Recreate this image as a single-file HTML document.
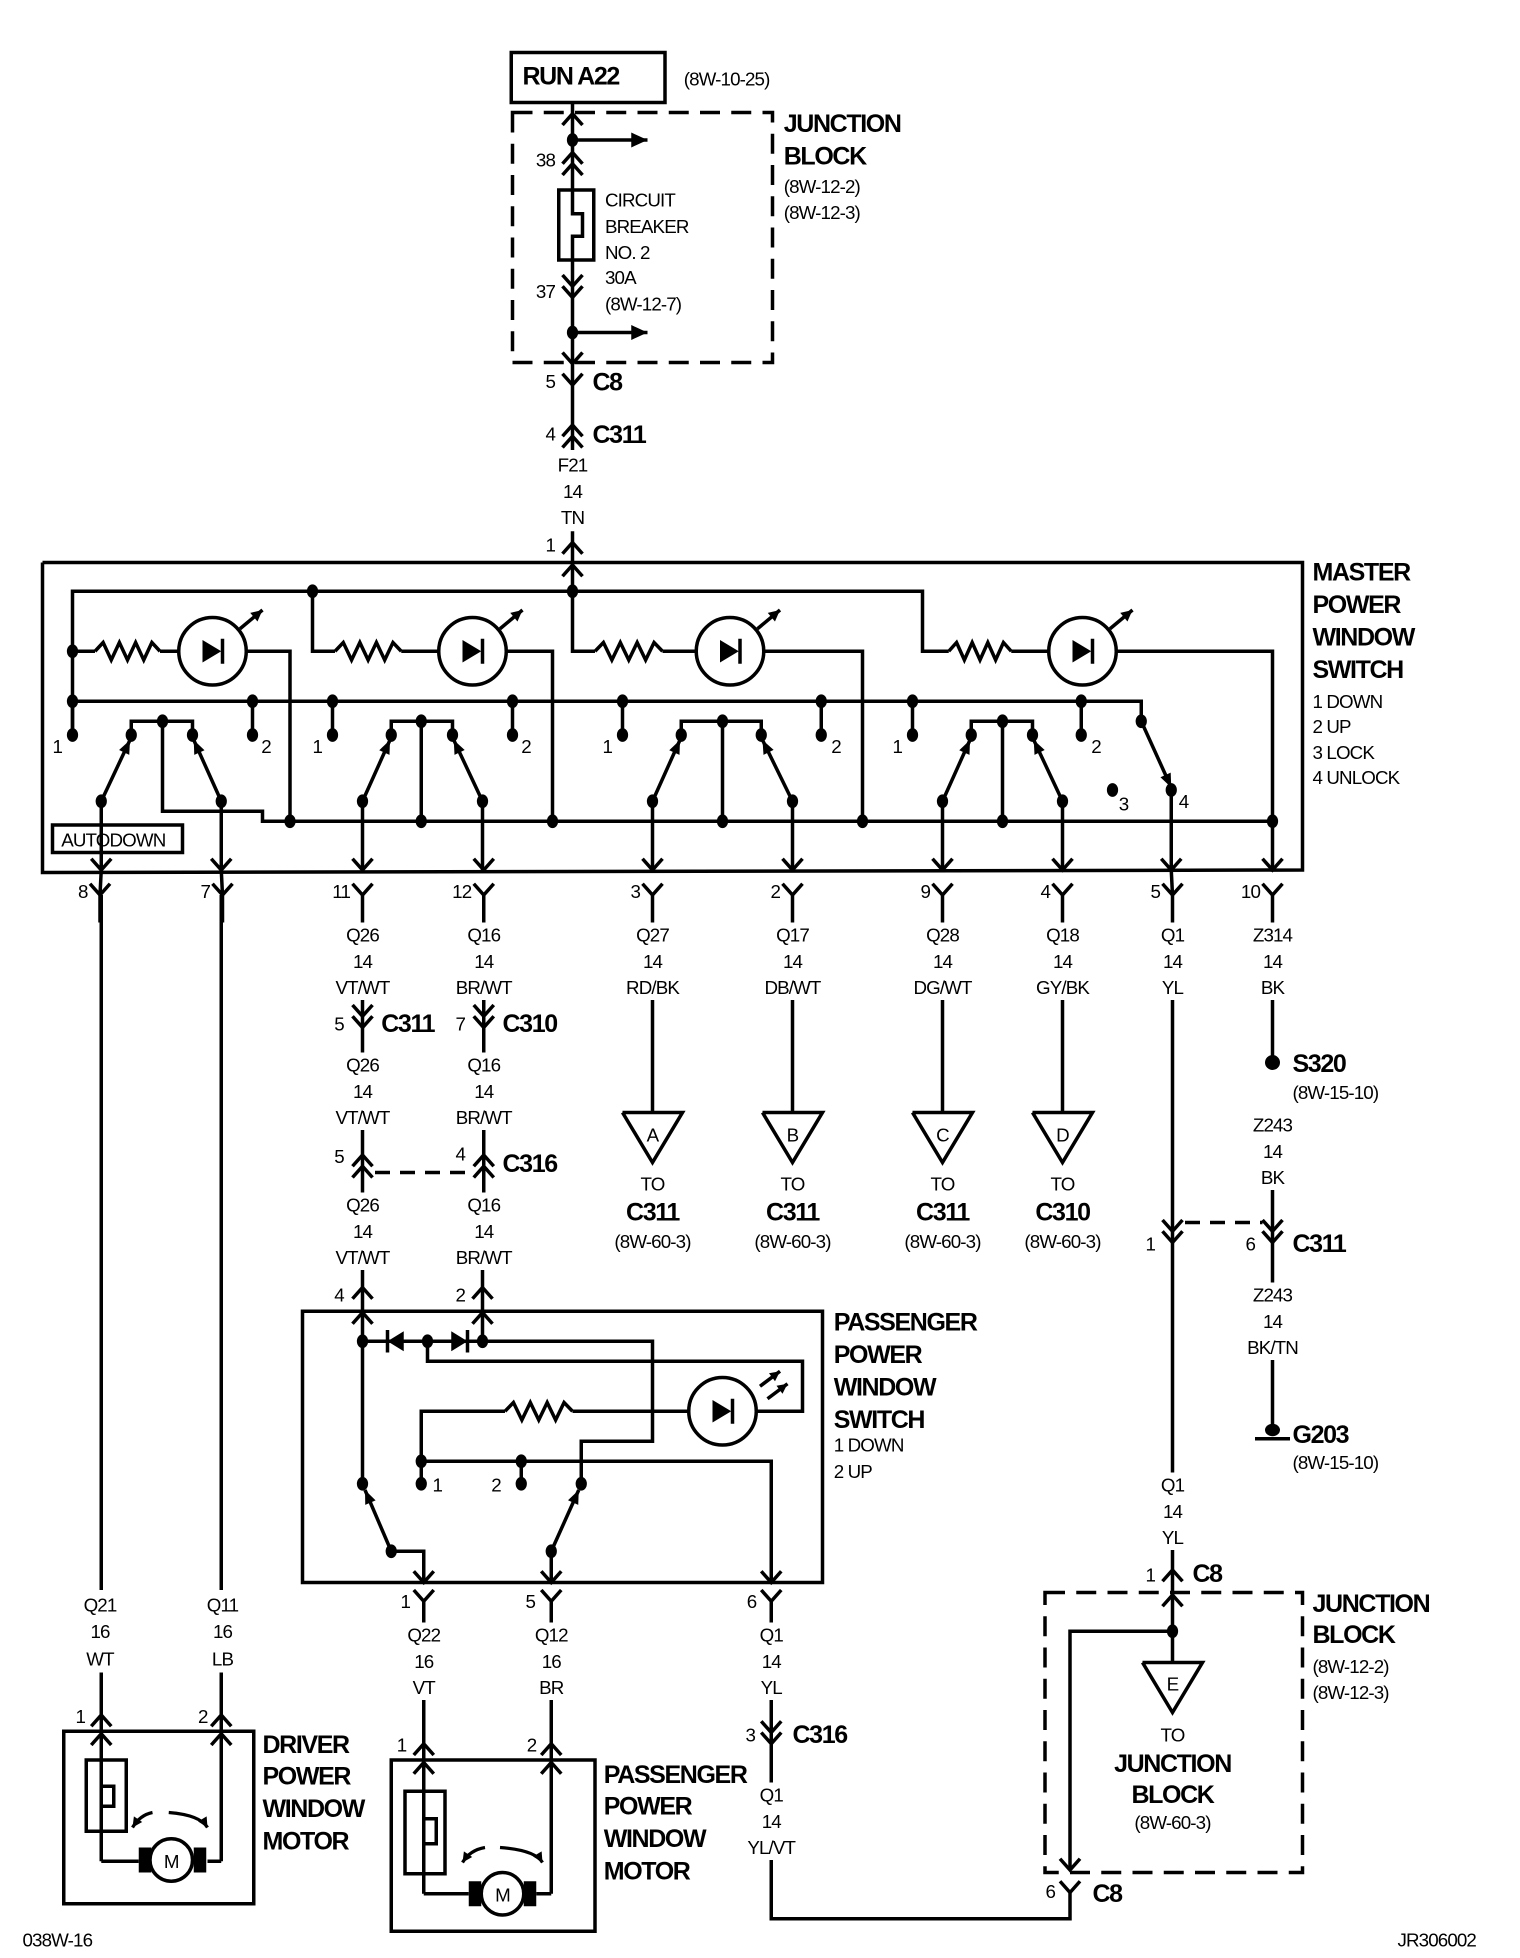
<!DOCTYPE html>
<html><head><meta charset="utf-8"><style>
html,body{margin:0;padding:0;background:#fff}
svg{display:block}
#g polyline,#g line,#g circle,#g rect{fill:none;stroke:#000;stroke-width:2.8}
#g .f{fill:#000;stroke:none}
text{font-family:"Liberation Sans",Arial,sans-serif;fill:#000}
.b{font-weight:bold;font-size:20px;letter-spacing:-1.1px}
.s{font-size:15px;letter-spacing:-0.7px}
.m{text-anchor:middle}
.e{text-anchor:end}
</style></head><body>
<svg width="1520" height="1958" viewBox="0 0 1216 1566.4" xmlns="http://www.w3.org/2000/svg">
<rect x="0" y="0" width="1216" height="1567" fill="#fff"/>
<g id="g"></g>
<g id="t" dominant-baseline="central">
<text class="b" x="418" y="61">RUN A22</text>
<text class="s" x="547" y="63">(8W-10-25)</text>
<text class="b" x="627" y="99">JUNCTION</text>
<text class="b" x="627" y="125">BLOCK</text>
<text class="s" x="627" y="149">(8W-12-2)</text>
<text class="s" x="627" y="170">(8W-12-3)</text>
<text class="s" x="484" y="160">CIRCUIT</text>
<text class="s" x="484" y="181">BREAKER</text>
<text class="s" x="484" y="202">NO. 2</text>
<text class="s" x="484" y="222">30A</text>
<text class="s" x="484" y="243">(8W-12-7)</text>
<text class="s e" x="444" y="128">38</text>
<text class="s e" x="444" y="233">37</text>
<text class="s e" x="444" y="305">5</text>
<text class="b" x="474" y="306">C8</text>
<text class="s e" x="444" y="347">4</text>
<text class="b" x="474" y="348">C311</text>
<text class="s m" x="458" y="372">F21</text>
<text class="s m" x="458" y="393">14</text>
<text class="s m" x="458" y="414">TN</text>
<text class="s e" x="444" y="436">1</text>

<text class="b" x="1050" y="458">MASTER</text>
<text class="b" x="1050" y="484">POWER</text>
<text class="b" x="1050" y="510">WINDOW</text>
<text class="b" x="1050" y="536">SWITCH</text>
<text class="s" x="1050" y="561">1 DOWN</text>
<text class="s" x="1050" y="581">2 UP</text>
<text class="s" x="1050" y="602">3 LOCK</text>
<text class="s" x="1050" y="622">4 UNLOCK</text>

<text class="s" x="42" y="597">1</text>
<text class="s" x="209" y="597">2</text>
<text class="s" x="250" y="597">1</text>
<text class="s" x="417" y="597">2</text>
<text class="s" x="482" y="597">1</text>
<text class="s" x="665" y="597">2</text>
<text class="s" x="714" y="597">1</text>
<text class="s" x="873" y="597">2</text>
<text class="s" x="895" y="643">3</text>
<text class="s" x="943" y="641">4</text>
<text class="s" x="49" y="672">AUTODOWN</text>

<text class="s e" x="70" y="713">8</text>
<text class="s e" x="168" y="713">7</text>
<text class="s e" x="280" y="713">11</text>
<text class="s e" x="377" y="713">12</text>
<text class="s e" x="512" y="713">3</text>
<text class="s e" x="624" y="713">2</text>
<text class="s e" x="744" y="713">9</text>
<text class="s e" x="840" y="713">4</text>
<text class="s e" x="928" y="713">5</text>
<text class="s e" x="1008" y="713">10</text>

<text class="s m" x="290" y="748">Q26</text><text class="s m" x="290" y="769">14</text><text class="s m" x="290" y="790">VT/WT</text>
<text class="s m" x="387" y="748">Q16</text><text class="s m" x="387" y="769">14</text><text class="s m" x="387" y="790">BR/WT</text>
<text class="s m" x="522" y="748">Q27</text><text class="s m" x="522" y="769">14</text><text class="s m" x="522" y="790">RD/BK</text>
<text class="s m" x="634" y="748">Q17</text><text class="s m" x="634" y="769">14</text><text class="s m" x="634" y="790">DB/WT</text>
<text class="s m" x="754" y="748">Q28</text><text class="s m" x="754" y="769">14</text><text class="s m" x="754" y="790">DG/WT</text>
<text class="s m" x="850" y="748">Q18</text><text class="s m" x="850" y="769">14</text><text class="s m" x="850" y="790">GY/BK</text>
<text class="s m" x="938" y="748">Q1</text><text class="s m" x="938" y="769">14</text><text class="s m" x="938" y="790">YL</text>
<text class="s m" x="1018" y="748">Z314</text><text class="s m" x="1018" y="769">14</text><text class="s m" x="1018" y="790">BK</text>

<text class="s e" x="275" y="819">5</text><text class="b" x="305" y="819">C311</text>
<text class="s e" x="372" y="819">7</text><text class="b" x="402" y="819">C310</text>
<text class="s m" x="290" y="852">Q26</text><text class="s m" x="290" y="873">14</text><text class="s m" x="290" y="894">VT/WT</text>
<text class="s m" x="387" y="852">Q16</text><text class="s m" x="387" y="873">14</text><text class="s m" x="387" y="894">BR/WT</text>
<text class="s e" x="275" y="925">5</text>
<text class="s e" x="372" y="923">4</text><text class="b" x="402" y="931">C316</text>
<text class="s m" x="290" y="964">Q26</text><text class="s m" x="290" y="985">14</text><text class="s m" x="290" y="1006">VT/WT</text>
<text class="s m" x="387" y="964">Q16</text><text class="s m" x="387" y="985">14</text><text class="s m" x="387" y="1006">BR/WT</text>
<text class="s e" x="275" y="1036">4</text>
<text class="s e" x="372" y="1036">2</text>

<text class="s m" x="522" y="908">A</text>
<text class="s m" x="634" y="908">B</text>
<text class="s m" x="754" y="908">C</text>
<text class="s m" x="850" y="908">D</text>
<text class="s m" x="522" y="947">TO</text><text class="b m" x="522" y="970">C311</text><text class="s m" x="522" y="993">(8W-60-3)</text>
<text class="s m" x="634" y="947">TO</text><text class="b m" x="634" y="970">C311</text><text class="s m" x="634" y="993">(8W-60-3)</text>
<text class="s m" x="754" y="947">TO</text><text class="b m" x="754" y="970">C311</text><text class="s m" x="754" y="993">(8W-60-3)</text>
<text class="s m" x="850" y="947">TO</text><text class="b m" x="850" y="970">C310</text><text class="s m" x="850" y="993">(8W-60-3)</text>

<text class="b" x="1034" y="851">S320</text>
<text class="s" x="1034" y="874">(8W-15-10)</text>
<text class="s m" x="1018" y="900">Z243</text><text class="s m" x="1018" y="921">14</text><text class="s m" x="1018" y="942">BK</text>
<text class="s e" x="924" y="995">1</text>
<text class="s e" x="1004" y="995">6</text><text class="b" x="1034" y="995">C311</text>
<text class="s m" x="1018" y="1036">Z243</text><text class="s m" x="1018" y="1057">14</text><text class="s m" x="1018" y="1078">BK/TN</text>
<text class="b" x="1034" y="1148">G203</text>
<text class="s" x="1034" y="1170">(8W-15-10)</text>
<text class="s m" x="938" y="1188">Q1</text><text class="s m" x="938" y="1209">14</text><text class="s m" x="938" y="1230">YL</text>
<text class="s e" x="924" y="1260">1</text><text class="b" x="954" y="1259">C8</text>

<text class="b" x="1050" y="1283">JUNCTION</text>
<text class="b" x="1050" y="1308">BLOCK</text>
<text class="s" x="1050" y="1333">(8W-12-2)</text>
<text class="s" x="1050" y="1354">(8W-12-3)</text>
<text class="s m" x="938" y="1347">E</text>
<text class="s m" x="938" y="1388">TO</text>
<text class="b m" x="938" y="1411">JUNCTION</text>
<text class="b m" x="938" y="1436">BLOCK</text>
<text class="s m" x="938" y="1458">(8W-60-3)</text>
<text class="s e" x="844" y="1513">6</text><text class="b" x="874" y="1515">C8</text>

<text class="b" x="667" y="1058">PASSENGER</text>
<text class="b" x="667" y="1084">POWER</text>
<text class="b" x="667" y="1110">WINDOW</text>
<text class="b" x="667" y="1136">SWITCH</text>
<text class="s" x="667" y="1156">1 DOWN</text>
<text class="s" x="667" y="1177">2 UP</text>
<text class="s" x="346" y="1188">1</text>
<text class="s" x="393" y="1188">2</text>
<text class="s e" x="328" y="1281">1</text>
<text class="s e" x="428" y="1281">5</text>
<text class="s e" x="605" y="1281">6</text>

<text class="s m" x="80" y="1284">Q21</text><text class="s m" x="80" y="1305">16</text><text class="s m" x="80" y="1327">WT</text>
<text class="s m" x="178" y="1284">Q11</text><text class="s m" x="178" y="1305">16</text><text class="s m" x="178" y="1327">LB</text>
<text class="s m" x="339" y="1308">Q22</text><text class="s m" x="339" y="1329">16</text><text class="s m" x="339" y="1350">VT</text>
<text class="s m" x="441" y="1308">Q12</text><text class="s m" x="441" y="1329">16</text><text class="s m" x="441" y="1350">BR</text>
<text class="s m" x="617" y="1308">Q1</text><text class="s m" x="617" y="1329">14</text><text class="s m" x="617" y="1350">YL</text>
<text class="s e" x="604" y="1388">3</text><text class="b" x="634" y="1388">C316</text>
<text class="s m" x="617" y="1436">Q1</text><text class="s m" x="617" y="1457">14</text><text class="s m" x="617" y="1478">YL/VT</text>

<text class="s e" x="68" y="1373">1</text>
<text class="s e" x="166" y="1373">2</text>
<text class="s e" x="325" y="1396">1</text>
<text class="s e" x="429" y="1396">2</text>
<text class="b" x="210" y="1396">DRIVER</text>
<text class="b" x="210" y="1421">POWER</text>
<text class="b" x="210" y="1447">WINDOW</text>
<text class="b" x="210" y="1473">MOTOR</text>
<text class="b" x="483" y="1420">PASSENGER</text>
<text class="b" x="483" y="1445">POWER</text>
<text class="b" x="483" y="1471">WINDOW</text>
<text class="b" x="483" y="1497">MOTOR</text>
<text class="s m" x="137" y="1489">M</text>
<text class="s m" x="402" y="1516">M</text>
<text class="s" x="18" y="1552">038W-16</text>
<text class="s" x="1118" y="1552">JR306002</text>
</g>
</svg>
<script>
const NS='http://www.w3.org/2000/svg';const G=document.getElementById('g');
function el(t,a){const e=document.createElementNS(NS,t);for(const k in a)e.setAttribute(k,a[k]);G.appendChild(e);return e;}
function P(a,extra){const pts=[];for(let i=0;i<a.length;i+=2)pts.push(a[i]+','+a[i+1]);return el('polyline',Object.assign({points:pts.join(' ')},extra||{}));}
function D(x,y){el('ellipse',{cx:x,cy:y,rx:4.5,ry:5.5,class:'f'});}
function vd(x,y){P([x-8,y-9,x,y,x+8,y-9]);}
function vu(x,y){P([x-8,y+9,x,y,x+8,y+9]);}
function head(x1,y1,x2,y2,L,W){L=L||11;W=W||4.5;const dx=x2-x1,dy=y2-y1,d=Math.hypot(dx,dy),ux=dx/d,uy=dy/d;
 const bx=x2-ux*L,by=y2-uy*L;el('polygon',{points:`${x2},${y2} ${bx-uy*W},${by+ux*W} ${bx+uy*W},${by-ux*W}`,class:'f'});}
function AR(x1,y1,x2,y2,L,W){P([x1,y1,x2,y2]);head(x1,y1,x2,y2,L,W);}
function res(x1,x2,y){const a=[x1,y];const n=8,w=(x2-x1)/n;for(let i=1;i<n;i++)a.push(x1+i*w,y+(i%2?-7:7));a.push(x2,y);P(a);}
function led(cx,cy,r,two){el('circle',{cx:cx,cy:cy,r:r});
 el('polygon',{points:`${cx-8},${cy-9} ${cx-8},${cy+9} ${cx+7},${cy}`,class:'f'});P([cx+8,cy-10,cx+8,cy+10]);
 if(two){AR(cx+30,cy-20,cx+46,cy-32,8,4);AR(cx+36,cy-10,cx+52,cy-22,8,4);}else AR(cx+22,cy-18,cx+40,cy-33,9,4.5);}
function diode(x,y,dir){
 el('polygon',{points:`${x},${y} ${x-dir*13},${y-8} ${x-dir*13},${y+8}`,class:'f'});P([x,y-9,x,y+9]);}
function tri(x,y){P([x-24,y,x+24,y,x,y+40,x-24,y]);}

el('rect',{x:409,y:42,width:123,height:40,'stroke-width':3.4});
el('rect',{x:410,y:90,width:208,height:200,'stroke-width':3.4,'stroke-dasharray':'16 9'});
P([458,82,458,152]);P([458,208,458,360]);
P([458,152,458,171,466,171,466,189,458,189,458,208]);
el('rect',{x:447,y:152,width:28,height:56});
vu(458,91);vu(458,122);vu(458,131);vd(458,229);vd(458,238);
D(458,112);AR(458,112,518,112,13,6);D(458,266);AR(458,266,518,266,13,6);
vd(458,291);vd(458,308);vu(458,340);vu(458,349);
P([458,425,458,472]);vu(458,434);vu(458,452);

P([34,450,1042,450,1042,696,34,698,34,450],{'stroke-width':4.2});
P([58,588,58,473,738,473,738,521,759,521]);
P([250,473,250,521,268,521]);P([458,473,458,521,476,521]);
D(250,473);D(458,473);
D(58,521);P([58,521,76,521]);res(76,128,521);P([128,521,143,521]);led(170,521,27);P([197,521,232,521,232,657]);
res(268,321,521);P([321,521,351,521]);led(378,521,27);P([404,521,442,521,442,657]);
res(476,530,521);P([530,521,557,521]);led(584,521,27);P([611,521,690,521,690,657]);
res(759,809,521);P([809,521,839,521]);led(866,521,27);P([893,521,1018,521,1018,696]);
P([58,561,913,561,913,577]);
[58,202,266,410,498,657,730,865].forEach(x=>{D(x,561);P([x,561,x,587]);D(x,588);});
P([130,577,130,649,210,649,210,657,1018,657]);
[232,337,442,578,690,802,1018].forEach(x=>D(x,657));
[[81,105,130,154,177],[290,313,337,362,386],[522,545,578,609,634],[754,777,802,826,850]].forEach(g=>{
 const [l,a,c,b,r]=g;P([a,588,a,577,b,577,b,588]);D(c,577);D(a,588);D(b,588);
 if(c!==130)P([c,577,c,657]);
 D(l,641);D(r,641);AR(l,641,a-1,592,11,4.5);AR(r,641,b+1,592,11,4.5);
 P([l,641,l,696]);P([r,641,r,696]);
});
D(913,577);AR(913,577,937,630,11,4.5);D(937,632);D(890,632);P([937,632,937,696]);
el('rect',{x:42,y:660,width:104,height:22});
[80,178,290,387,522,634,754,850,938,1018].forEach(x=>{const xx=(x===80?81:x===178?177:x===938?937:x);vd(xx,696);vd(x,716);P([x,716,x,738]);});
P([937,696,938,716]);P([81,696,80,716]);P([177,696,178,716]);
P([290,800,290,842]);vd(290,813);vd(290,822);
P([387,800,387,842]);vd(387,813);vd(387,822);
P([290,904,290,954]);vu(290,924);vu(290,933);
P([387,904,387,954]);vu(387,924);vu(387,933);
P([300,938,372,938],{'stroke-dasharray':'12 8'});
P([290,1016,290,1073]);vu(290,1030);vu(290,1050);
P([386,1016,386,1073]);vu(386,1030);vu(386,1050);
[522,634,754,850].forEach(x=>{P([x,800,x,890]);tri(x,890);});
P([938,800,938,1178]);vd(938,985);vd(938,994);
P([948,978,1010,978],{'stroke-dasharray':'12 8'});
P([1018,800,1018,850]);el('circle',{cx:1018,cy:850,r:6,class:'f'});
P([1018,952,1018,1026]);vd(1018,985);vd(1018,994);
P([1018,1088,1018,1142]);el('ellipse',{cx:1018,cy:1144,rx:6,ry:5,class:'f'});P([1004,1151,1032,1151],{'stroke-width':3});
P([938,1240,938,1330]);vu(938,1256);vu(938,1276);D(938,1305);tri(938,1330);
el('rect',{x:836,y:1274,width:206,height:224,'stroke-width':3.4,'stroke-dasharray':'16 9'});
P([938,1305,856,1305,856,1496]);vd(856,1496);vd(856,1514);P([856,1514,856,1535,617,1535,617,1488]);
el('rect',{x:242,y:1049,width:416,height:217,'stroke-width':3.4});
D(290,1073);D(342,1073);D(386,1073);
P([290,1073,342,1073]);diode(310,1073,-1);P([342,1073,386,1073]);diode(374,1073,1);
P([386,1073,522,1073,522,1153,465,1153,465,1187]);
P([342,1073,342,1089,642,1089,642,1129,605,1129]);
led(578,1129,27,true);P([551,1129,458,1129]);res(404,458,1129);P([404,1129,337,1129,337,1169]);
D(337,1169);D(417,1169);P([337,1169,617,1169,617,1266]);
P([337,1169,337,1187]);D(337,1187);P([417,1169,417,1187]);D(417,1187);
P([290,1073,290,1187]);D(290,1187);D(313,1241);AR(313,1241,292,1192,11,4.5);P([313,1241,339,1241,339,1266]);
D(465,1187);D(441,1241);AR(441,1241,463,1192,11,4.5);P([441,1241,441,1266]);
[339,441,617].forEach(x=>{vd(x,1266);vd(x,1281);P([x,1281,x,1298]);});
P([617,1360,617,1426]);vd(617,1386);vd(617,1395);
P([81,716,81,1272]);P([177,716,177,1272]);
P([81,1338,81,1489]);P([177,1338,177,1489]);
vu(81,1372);vu(177,1372);vu(81,1387);vu(177,1387);
el('rect',{x:51,y:1385,width:152,height:138,'stroke-width':3.4});
el('rect',{x:69,y:1408,width:32,height:57});
P([81,1429,91,1429,91,1445,81,1445]);
P([81,1489,111,1489]);P([177,1489,166,1489]);
el('rect',{x:111,y:1478,width:10,height:20,class:'f'});el('rect',{x:155,y:1478,width:10,height:20,class:'f'});
el('circle',{cx:137,cy:1488,r:17});
el('path',{d:'M122,1450 Q112,1452 106,1462',fill:'none',stroke:'#000','stroke-width':2.6});head(112,1453,106,1462,8,4);
el('path',{d:'M135,1450 Q160,1452 166,1462',fill:'none',stroke:'#000','stroke-width':2.6});head(160,1452,166,1462,8,4);
P([339,1360,339,1515]);P([441,1360,441,1515]);
vu(339,1395);vu(441,1395);vu(339,1410);vu(441,1410);
el('rect',{x:313,y:1408,width:163,height:137,'stroke-width':3.4});
el('rect',{x:324,y:1433,width:32,height:66});
P([339,1455,349,1455,349,1475,339,1475]);
P([339,1515,375,1515]);P([441,1515,429,1515]);
el('rect',{x:375,y:1505,width:10,height:20,class:'f'});el('rect',{x:419,y:1505,width:10,height:20,class:'f'});
el('circle',{cx:402,cy:1515,r:17});
el('path',{d:'M388,1478 Q376,1480 370,1490',fill:'none',stroke:'#000','stroke-width':2.6});head(376,1481,370,1490,8,4);
el('path',{d:'M400,1478 Q428,1480 434,1490',fill:'none',stroke:'#000','stroke-width':2.6});head(428,1480,434,1490,8,4);
</script>
</body></html>
